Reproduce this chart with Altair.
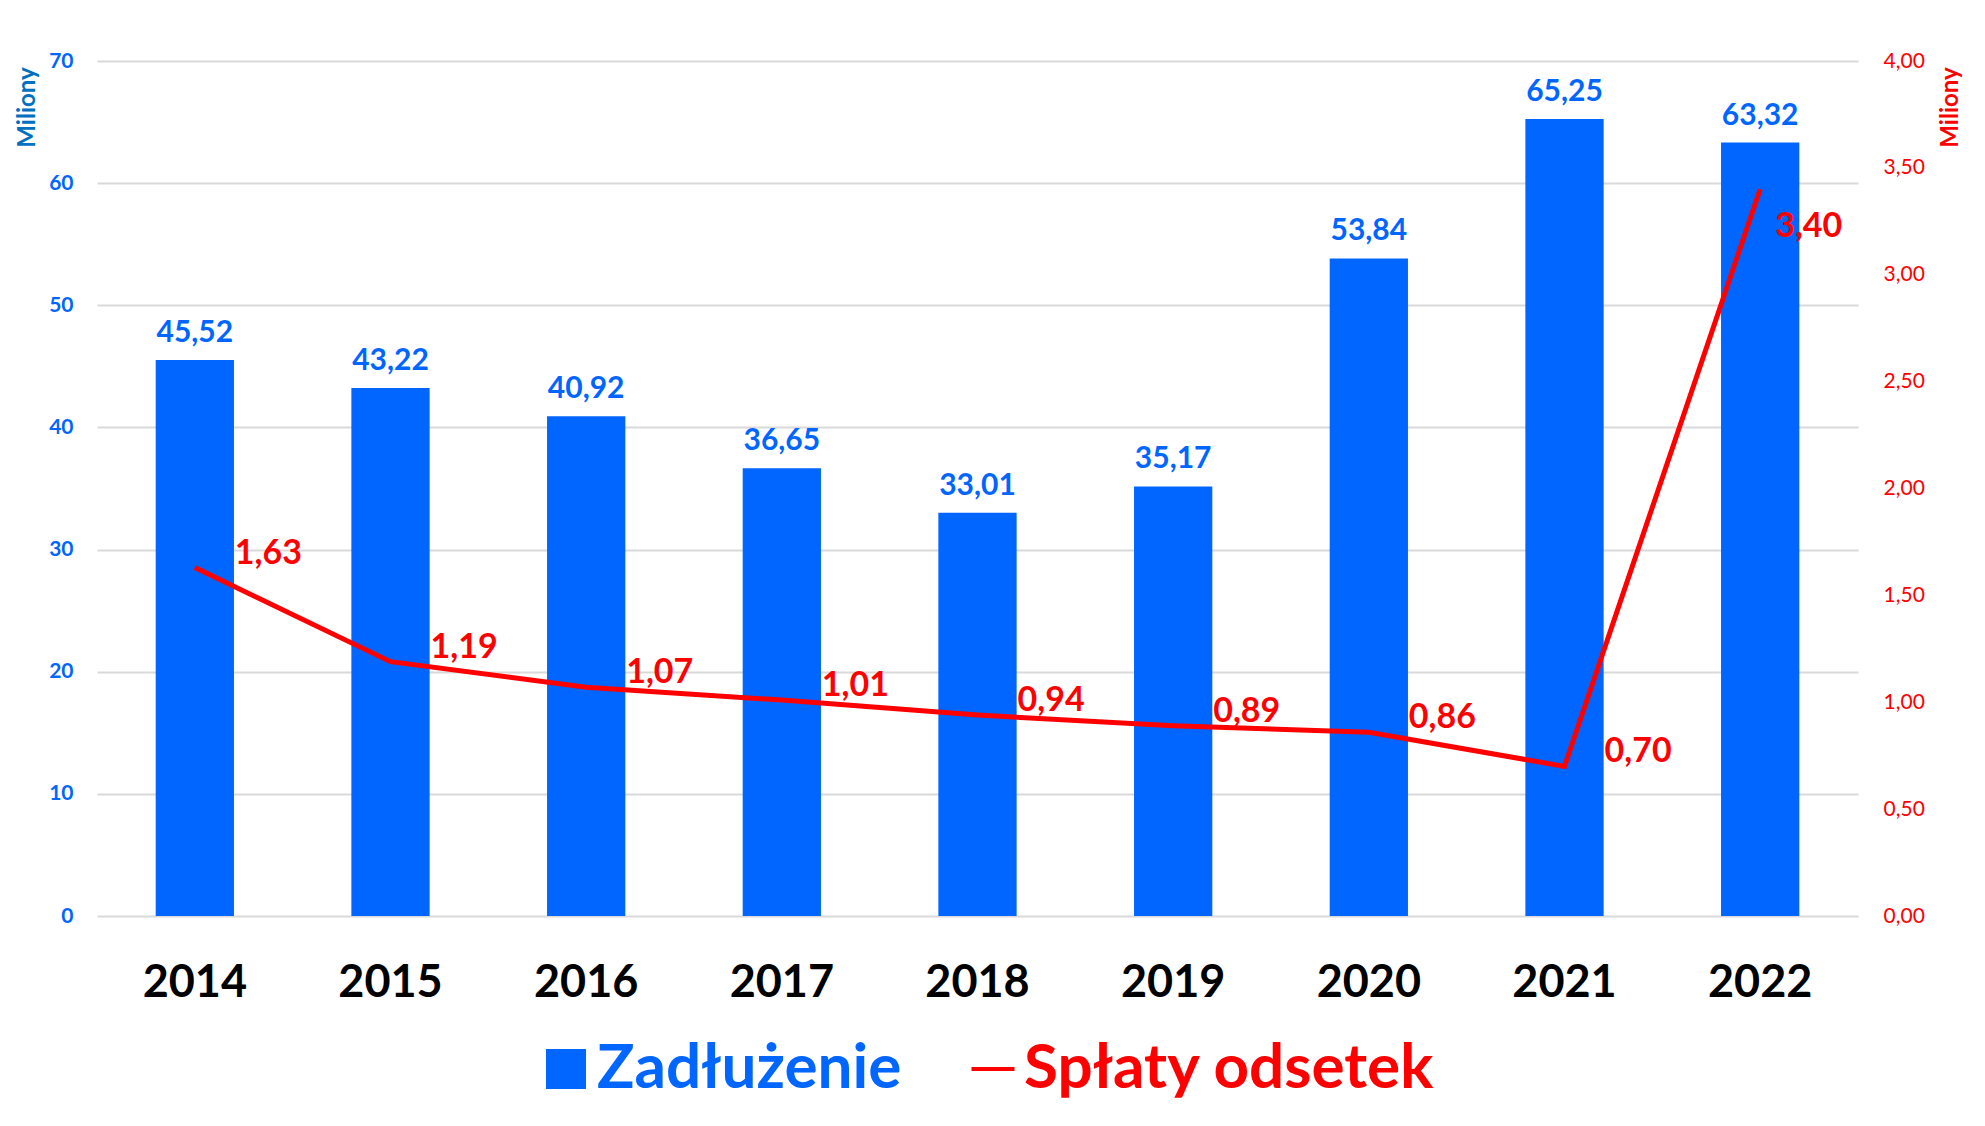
import altair as alt
import pandas as pd

years = ["2014", "2015", "2016", "2017", "2018", "2019", "2020", "2021", "2022"]
zadluzenie = [45.52, 43.22, 40.92, 36.65, 33.01, 35.17, 53.84, 65.25, 63.32]
splaty = [1.63, 1.19, 1.07, 1.01, 0.94, 0.89, 0.86, 0.70, 3.40]
left_ticks = [0, 10, 20, 30, 40, 50, 60, 70]
right_ticks = [0, 0.5, 1.0, 1.5, 2.0, 2.5, 3.0, 3.5, 4.0]

df = pd.DataFrame({"rok": years, "z": zadluzenie, "s": splaty})

FONT = "Lato"
BLUE = "#0066FF"
RED = "#FF0000"

x = alt.X(
    "rok:N",
    sort=years,
    title=None,
    scale=alt.Scale(paddingInner=0.6, paddingOuter=0.3),
    axis=alt.Axis(
        labelFont=FONT, labelFontSize=45, labelFontWeight="bold", labelColor="#000000",
        labelAngle=0, labelBaseline="middle", labelPadding=66,
        ticks=False, domain=False, grid=False,
    ),
)

base = alt.Chart(df).encode(x=x)

left_scale = alt.Scale(domain=[0, 70], nice=False)
y_left = alt.Y(
    "z:Q",
    scale=left_scale,
    axis=alt.Axis(
        values=left_ticks, title="Miliony", titleColor="#0070C0", titleFont=FONT,
        titleFontSize=24, titleFontWeight="bold", titleAngle=-90, titleAlign="center",
        titleBaseline="middle", titleX=-70, titleY=46,
        labelColor=BLUE, labelFont=FONT, labelFontSize=21, labelFontWeight="bold",
        labelPadding=24, ticks=False, domain=False,
        grid=True, gridColor="#D9D9D9", gridWidth=2,
    ),
)

bars = base.mark_bar(color=BLUE).encode(
    y=y_left,
    color=alt.Color(
        "seria_z:N",
        scale=alt.Scale(domain=["Zadłużenie"], range=[BLUE]),
        legend=alt.Legend(
            title=None, orient="none", legendX=438, legendY=977, padding=0,
            symbolType="square", symbolSize=1600, symbolStrokeWidth=0,
            labelFont=FONT, labelFontSize=62, labelFontWeight="bold",
            labelColor=BLUE, labelLimit=800, labelOffset=0,
        ),
    ),
).transform_calculate(seria_z="'Zadłużenie'")

bar_text = base.mark_text(
    font=FONT, fontSize=30, fontWeight="bold", color=BLUE,
    baseline="alphabetic", align="center", dy=-18,
).encode(
    y=alt.Y("z:Q", scale=left_scale),
    text="lbl:N",
).transform_calculate(lbl="replace(format(datum.z, '.2f'), '.', ',')")

left = alt.layer(bars, bar_text)

right_scale = alt.Scale(domain=[0, 4], nice=False)
y_right = alt.Y(
    "s:Q",
    scale=right_scale,
    axis=alt.Axis(
        orient="right", values=right_ticks,
        labelExpr="replace(format(datum.value, '.2f'), '.', ',')",
        title="Miliony", titleColor=RED, titleFont=FONT, titleFontSize=24,
        titleFontWeight="bold", titleAngle=-90, titleAlign="center",
        titleBaseline="middle", titleX=92, titleY=46,
        labelColor=RED, labelFont=FONT, labelFontSize=21, labelFontWeight="normal",
        labelPadding=25, ticks=False, domain=False, grid=False,
    ),
)

line = base.mark_line(strokeWidth=5).encode(
    y=y_right,
    stroke=alt.Stroke(
        "seria_s:N",
        scale=alt.Scale(domain=["Spłaty odsetek"], range=[RED]),
        legend=alt.Legend(
            title=None, orient="none", legendX=865, legendY=977, padding=0,
            symbolType="stroke", symbolSize=1850, symbolStrokeWidth=4,
            labelFont=FONT, labelFontSize=62, labelFontWeight="bold",
            labelColor=RED, labelLimit=800, labelOffset=0,
        ),
    ),
).transform_calculate(seria_s="'Spłaty odsetek'")

line_text_low = base.mark_text(
    font=FONT, fontSize=34, fontWeight="bold", color=RED,
    align="left", baseline="middle", dx=40, dy=-14,
).encode(
    y=alt.Y("s:Q", scale=right_scale),
    text="lbl:N",
).transform_filter("datum.s < 3").transform_calculate(
    lbl="replace(format(datum.s, '.2f'), '.', ',')"
)

line_text_high = base.mark_text(
    font=FONT, fontSize=34, fontWeight="bold", color=RED,
    align="left", baseline="middle", dx=15, dy=38,
).encode(
    y=alt.Y("s:Q", scale=right_scale),
    text="lbl:N",
).transform_filter("datum.s >= 3").transform_calculate(
    lbl="replace(format(datum.s, '.2f'), '.', ',')"
)

right = alt.layer(line, line_text_low, line_text_high)

chart = alt.layer(left, right).resolve_scale(
    y="independent", color="independent", stroke="independent"
).properties(
    width=1761, height=855,
    autosize=alt.AutoSizeParams(type="none"),
    padding={"left": 89, "top": 53, "right": 119, "bottom": 202},
    background="#FFFFFF",
).configure_view(stroke=None)

chart.save("out.html", embed_options={"renderer": "svg", "actions": False})
